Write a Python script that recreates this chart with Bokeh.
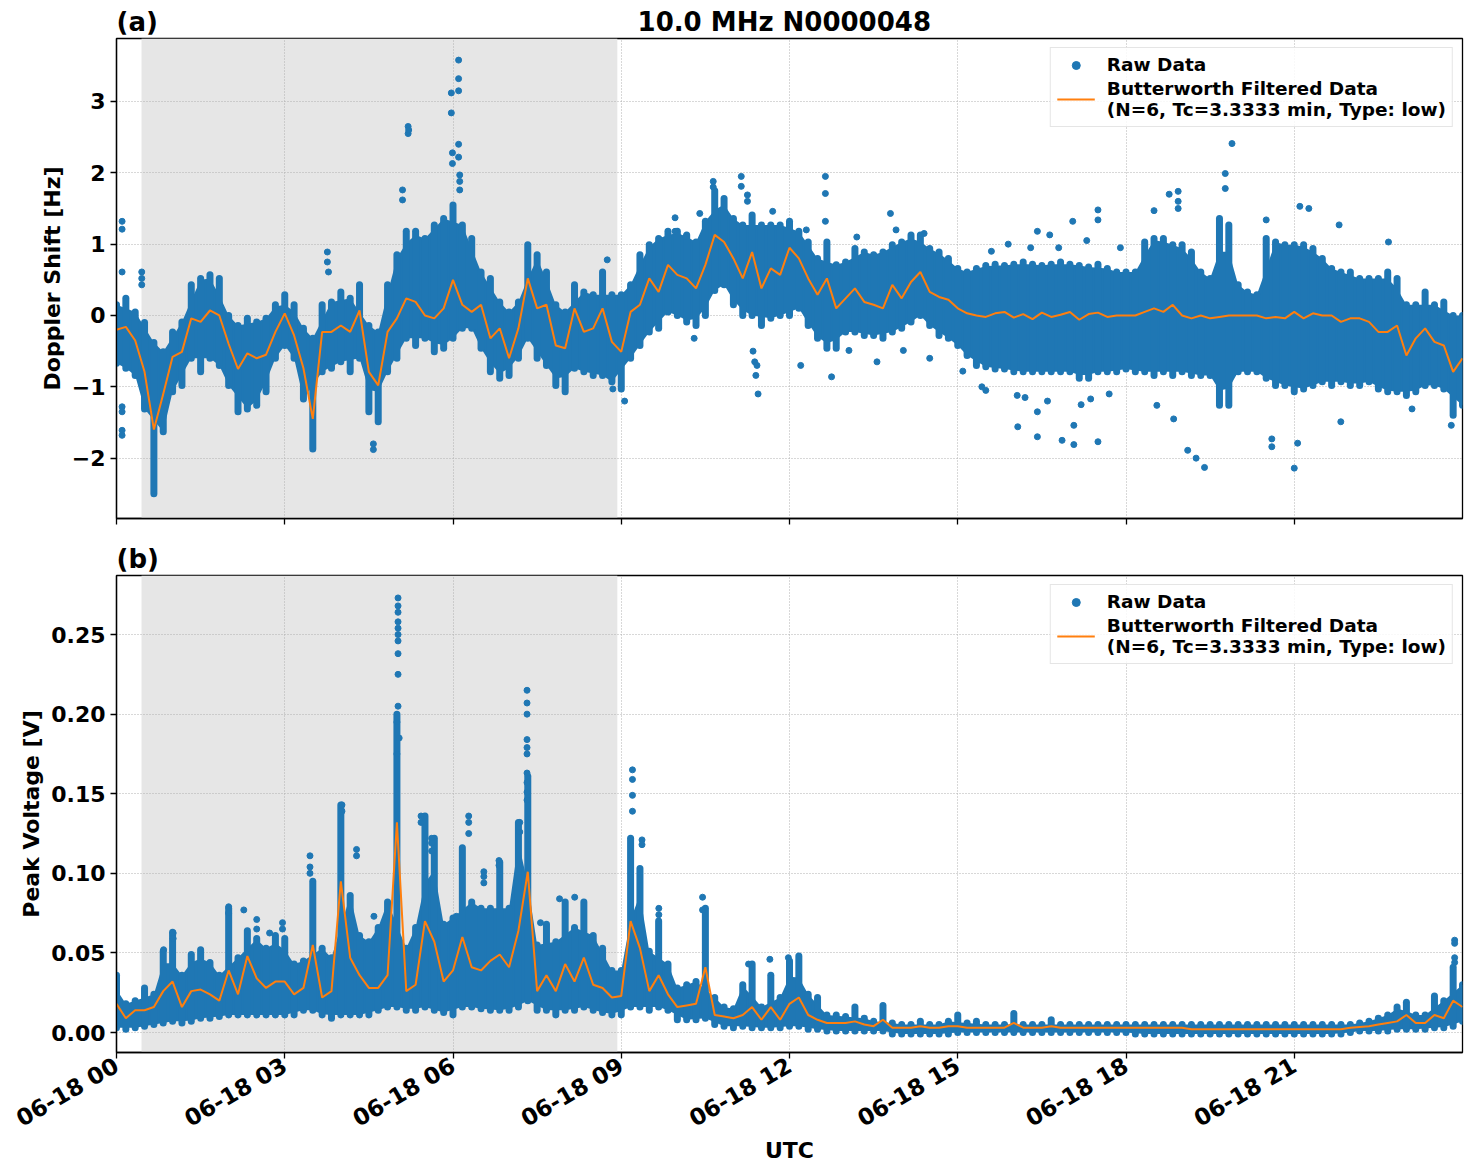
import math
from bokeh.plotting import figure
from bokeh.layouts import column
from bokeh.models import Range1d, FixedTicker, Legend, LegendItem, BoxAnnotation
from bokeh.embed import file_html
from bokeh.resources import INLINE

# ---------------------------------------------------------------- data
# 10-minute sampling grid over the UTC day (hours)
STEP_MIN = 10
TIME_H = [i * STEP_MIN / 60 for i in range(145)]

TICK_HOURS = [0, 3, 6, 9, 12, 15, 18, 21]
TICK_LABELS = ["06-18 00", "06-18 03", "06-18 06", "06-18 09",
               "06-18 12", "06-18 15", "06-18 18", "06-18 21"]

# night-time interval (hours UTC)
NIGHT_START = 0.446
NIGHT_END = 8.93

# Doppler shift [Hz]: low-pass filtered trace
DOP_FILT = [
    -0.20, -0.16, -0.35, -0.79, -1.60, -1.10, -0.58, -0.51, -0.04, -0.09,
    0.07, 0.00, -0.40, -0.75, -0.53, -0.60, -0.55, -0.23, 0.03, -0.28,
    -0.74, -1.45, -0.23, -0.23, -0.14, -0.23, 0.07, -0.79, -0.98, -0.23,
    -0.04, 0.24, 0.19, 0.00, -0.04, 0.10, 0.50, 0.15, 0.05, 0.15,
    -0.32, -0.18, -0.60, -0.18, 0.52, 0.10, 0.15, -0.42, -0.46, 0.10,
    -0.23, -0.18, 0.10, -0.37, -0.51, 0.05, 0.15, 0.52, 0.33, 0.71,
    0.57, 0.52, 0.38, 0.71, 1.13, 1.03, 0.80, 0.52, 0.89, 0.38,
    0.66, 0.57, 0.95, 0.80, 0.52, 0.29, 0.52, 0.10, 0.24, 0.38,
    0.19, 0.15, 0.10, 0.43, 0.24, 0.47, 0.61, 0.33, 0.26, 0.22,
    0.10, 0.03, 0.00, -0.02, 0.03, 0.05, -0.03, 0.02, -0.05, 0.04,
    -0.02, 0.01, 0.05, -0.06, 0.02, 0.04, -0.02, 0.00, 0.00, 0.00,
    0.05, 0.10, 0.05, 0.15, 0.00, -0.04, 0.00, -0.04, -0.02, 0.00,
    0.00, 0.00, 0.00, -0.04, -0.02, -0.04, 0.05, -0.04, 0.03, 0.00,
    0.00, -0.09, -0.04, -0.04, -0.09, -0.23, -0.23, -0.14, -0.56, -0.32,
    -0.18, -0.37, -0.42, -0.79, -0.60,
]
# Doppler shift raw samples: upper / lower edge of the dense cloud
DOP_HI = [
    0.15, 0.24, 0.05, -0.10, -0.38, -0.51, -0.23, -0.09, 0.43, 0.52,
    0.57, 0.52, 0.00, -0.14, -0.04, -0.09, -0.04, 0.15, 0.29, 0.15,
    -0.18, -0.32, 0.15, 0.19, 0.33, 0.24, 0.43, -0.14, -0.23, 0.43,
    0.85, 1.18, 1.18, 1.08, 1.27, 1.36, 1.55, 1.27, 1.08, 0.61,
    0.52, 0.19, 0.05, 0.19, 0.99, 0.85, 0.61, 0.15, 0.05, 0.43,
    0.33, 0.29, 0.61, 0.29, 0.29, 0.43, 0.85, 0.99, 1.08, 1.18,
    1.18, 1.13, 1.03, 1.32, 1.75, 1.64, 1.36, 1.27, 1.41, 1.27,
    1.27, 1.27, 1.32, 1.18, 1.03, 0.80, 1.03, 0.71, 0.75, 0.94,
    0.89, 0.85, 0.89, 0.99, 1.03, 1.13, 1.13, 0.94, 0.89, 0.80,
    0.66, 0.61, 0.66, 0.70, 0.72, 0.70, 0.72, 0.75, 0.72, 0.70,
    0.72, 0.75, 0.72, 0.70, 0.68, 0.72, 0.66, 0.61, 0.61, 0.61,
    1.03, 1.08, 1.08, 0.99, 0.99, 0.89, 0.61, 0.52, 1.36, 1.27,
    0.43, 0.33, 0.29, 1.08, 1.03, 0.99, 0.99, 0.99, 0.94, 0.80,
    0.66, 0.61, 0.61, 0.52, 0.52, 0.52, 0.61, 0.52, 0.15, 0.15,
    0.33, 0.15, 0.19, 0.00, 0.00,
]
DOP_LO = [
    -0.67, -0.74, -0.84, -1.31, -2.50, -1.63, -1.07, -0.98, -0.60, -0.79,
    -0.60, -0.70, -0.98, -1.35, -1.31, -1.26, -1.07, -0.60, -0.42, -0.60,
    -1.17, -1.87, -0.79, -0.74, -0.65, -0.79, -0.60, -1.35, -1.49, -0.79,
    -0.60, -0.32, -0.42, -0.32, -0.51, -0.46, -0.32, -0.18, -0.18, -0.46,
    -0.79, -0.88, -0.84, -0.60, -0.32, -0.60, -0.70, -0.98, -1.07, -0.74,
    -0.79, -0.84, -0.84, -0.93, -1.03, -0.60, -0.42, -0.23, -0.18, 0.05,
    0.00, -0.09, -0.14, 0.00, 0.35, 0.43, 0.15, 0.00, 0.00, -0.14,
    -0.04, 0.00, 0.00, 0.10, -0.14, -0.32, -0.46, -0.46, -0.23, -0.23,
    -0.28, -0.28, -0.32, -0.23, -0.18, -0.09, 0.00, -0.14, -0.28, -0.32,
    -0.42, -0.56, -0.70, -0.72, -0.75, -0.75, -0.79, -0.79, -0.79, -0.79,
    -0.79, -0.79, -0.79, -0.88, -0.88, -0.79, -0.79, -0.79, -0.75, -0.79,
    -0.79, -0.84, -0.79, -0.84, -0.79, -0.84, -0.84, -0.84, -1.26, -1.26,
    -0.79, -0.79, -0.79, -0.88, -0.98, -0.98, -1.07, -1.03, -0.98, -0.93,
    -0.98, -0.93, -0.98, -0.98, -0.93, -1.03, -1.07, -1.07, -1.12, -1.07,
    -0.98, -0.98, -1.03, -1.40, -1.26,
]
# isolated raw Doppler samples outside the dense cloud
DOP_OUT_T = [
    0.10, 0.10, 0.10, 0.10, 0.10, 0.10, 0.10,
    0.45, 0.45, 0.45,
    3.76, 3.76, 3.78,
    4.58, 4.58,
    5.20, 5.20, 5.21, 5.10, 5.10,
    5.97, 5.97, 5.99, 5.99,
    6.10, 6.10, 6.10, 6.10, 6.10, 6.12, 6.12, 6.12,
    8.75, 9.06, 8.85,
    9.96, 9.96, 10.15, 10.30, 10.40, 10.64, 10.64,
    11.14, 11.14, 11.25, 11.25,
    11.35, 11.38, 11.40, 11.42, 11.44,
    11.70,
    12.64, 12.64, 12.64, 12.75, 13.80, 14.03, 13.56, 13.06,
    15.09, 15.43, 16.07, 16.42, 16.42, 16.86, 17.07, 17.07, 17.50,
    16.42, 16.64, 17.05, 17.50, 17.50, 16.06, 17.37,
    15.60, 15.90, 16.30, 16.80, 17.30, 17.90, 15.50, 16.20, 16.60, 17.20, 17.70,
    12.30, 13.20, 13.90, 14.40, 12.20, 14.50,
    19.89, 19.77, 19.77, 18.93, 18.93, 18.93, 18.50, 18.77,
    19.10, 19.25, 19.40,
    21.00, 21.06, 20.60, 20.60, 21.10, 21.26, 21.83, 22.68, 23.80,
    20.50, 18.85, 18.55, 21.80, 23.10,
]
DOP_OUT_V = [
    1.32, 1.21, 0.61, -1.28, -1.35, -1.61, -1.68,
    0.61, 0.52, 0.43,
    0.89, 0.75, 0.61,
    -1.80, -1.88,
    2.65, 2.55, 2.60, 1.76, 1.62,
    3.12, 2.84, 2.28, 2.13,
    3.58, 3.32, 3.15, 2.40, 2.22, 1.97, 1.88, 1.76,
    0.78, -1.20, -1.03,
    1.37, 1.18, 1.10, -0.32, 1.43, 1.88, 1.80,
    1.95, 1.81, 1.69, 1.60,
    -0.50, -0.65, -0.84, -0.70, -1.10,
    1.46,
    1.95, 1.71, 1.32, -0.86, 1.43, -0.49, -0.65, -0.49,
    -0.78, -1.00, -1.56, -1.70, -1.35, -1.75, -1.81, -1.54, -1.77,
    1.18, 1.13, 1.32, 1.48, 1.34, -1.12, -1.17,
    0.90, 1.00, 0.95, 0.95, 1.05, 0.95, -1.05, -1.15, -1.20, -1.25, -1.10,
    1.20, 1.10, 1.20, 1.15, -0.70, -0.60,
    2.41, 1.99, 1.78, 1.74, 1.60, 1.50, 1.47, 1.70,
    -1.89, -2.00, -2.13,
    -2.14, -1.79, -1.84, -1.73, 1.53, 1.50, -1.49, 1.03, -1.54,
    1.34, -1.45, -1.26, 1.27, -1.31,
]

# Peak voltage [V]: low-pass filtered trace
VOLT_FILT = [
    0.018, 0.009, 0.014, 0.014, 0.016, 0.026, 0.032, 0.016, 0.026, 0.027,
    0.024, 0.020, 0.039, 0.024, 0.048, 0.034, 0.028, 0.032, 0.032, 0.024,
    0.028, 0.055, 0.022, 0.026, 0.095, 0.047, 0.036, 0.028, 0.028, 0.036,
    0.132, 0.026, 0.030, 0.070, 0.057, 0.032, 0.039, 0.060, 0.041, 0.039,
    0.045, 0.049, 0.041, 0.064, 0.101, 0.026, 0.036, 0.026, 0.043, 0.032,
    0.047, 0.030, 0.028, 0.022, 0.023, 0.070, 0.053, 0.026, 0.036, 0.024,
    0.016, 0.017, 0.018, 0.041, 0.011, 0.010, 0.009, 0.011, 0.016, 0.008,
    0.016, 0.008, 0.018, 0.022, 0.011, 0.008, 0.006, 0.006, 0.006, 0.007,
    0.005, 0.004, 0.008, 0.003, 0.003, 0.003, 0.004, 0.003, 0.003, 0.004,
    0.004, 0.003, 0.003, 0.003, 0.003, 0.003, 0.006, 0.003, 0.003, 0.003,
    0.004, 0.003, 0.003, 0.003, 0.003, 0.003, 0.003, 0.003, 0.003, 0.003,
    0.003, 0.003, 0.003, 0.003, 0.003, 0.002, 0.002, 0.002, 0.002, 0.002,
    0.002, 0.002, 0.002, 0.002, 0.002, 0.002, 0.002, 0.002, 0.002, 0.002,
    0.002, 0.002, 0.003, 0.0035, 0.004, 0.005, 0.006, 0.007, 0.011, 0.006,
    0.006, 0.011, 0.009, 0.020, 0.016,
]
VOLT_HI = [
    0.036, 0.018, 0.020, 0.028, 0.024, 0.051, 0.063, 0.036, 0.049, 0.052,
    0.044, 0.036, 0.078, 0.047, 0.064, 0.059, 0.053, 0.061, 0.059, 0.043,
    0.045, 0.095, 0.053, 0.047, 0.143, 0.086, 0.061, 0.057, 0.066, 0.082,
    0.200, 0.053, 0.066, 0.136, 0.122, 0.068, 0.072, 0.116, 0.082, 0.078,
    0.078, 0.107, 0.078, 0.132, 0.161, 0.055, 0.068, 0.057, 0.082, 0.066,
    0.082, 0.061, 0.053, 0.039, 0.039, 0.122, 0.103, 0.051, 0.070, 0.043,
    0.028, 0.030, 0.032, 0.078, 0.022, 0.016, 0.015, 0.030, 0.043, 0.016,
    0.036, 0.022, 0.045, 0.048, 0.024, 0.022, 0.011, 0.011, 0.010, 0.016,
    0.009, 0.007, 0.017, 0.006, 0.005, 0.005, 0.007, 0.005, 0.005, 0.007,
    0.011, 0.006, 0.007, 0.005, 0.005, 0.005, 0.012, 0.005, 0.005, 0.005,
    0.008, 0.005, 0.005, 0.005, 0.005, 0.005, 0.005, 0.005, 0.005, 0.005,
    0.005, 0.005, 0.005, 0.005, 0.005, 0.005, 0.005, 0.005, 0.005, 0.005,
    0.005, 0.005, 0.005, 0.005, 0.005, 0.005, 0.005, 0.005, 0.005, 0.005,
    0.005, 0.005, 0.005, 0.006, 0.007, 0.009, 0.011, 0.016, 0.019, 0.011,
    0.011, 0.023, 0.020, 0.041, 0.030,
]
VOLT_LO = [
    0.003, 0.002, 0.003, 0.004, 0.005, 0.006, 0.007, 0.006, 0.007, 0.009,
    0.009, 0.010, 0.011, 0.011, 0.011, 0.011, 0.011, 0.011, 0.011, 0.011,
    0.014, 0.014, 0.011, 0.009, 0.011, 0.011, 0.011, 0.011, 0.014, 0.016,
    0.016, 0.014, 0.014, 0.016, 0.014, 0.0125, 0.011, 0.016, 0.016, 0.015,
    0.014, 0.014, 0.014, 0.016, 0.020, 0.014, 0.014, 0.011, 0.014, 0.014,
    0.016, 0.014, 0.0125, 0.011, 0.011, 0.016, 0.016, 0.014, 0.016, 0.014,
    0.008, 0.008, 0.008, 0.009, 0.005, 0.004, 0.003, 0.004, 0.003, 0.003,
    0.003, 0.003, 0.004, 0.004, 0.002, 0.002, 0.001, 0.001, 0.001, 0.001,
    0.001, 0.001, 0.001, -0.001, -0.001, -0.001, -0.001, -0.001, -0.001, -0.001,
    0.000, 0.000, 0.000, 0.000, 0.000, 0.000, 0.000, 0.000, 0.000, 0.000,
    0.000, 0.000, 0.000, 0.000, 0.000, 0.000, 0.000, 0.000, 0.000, -0.001,
    -0.001, -0.001, -0.001, -0.001, -0.001, -0.001, -0.001, -0.001, -0.001, -0.001,
    -0.001, -0.001, -0.001, -0.001, -0.001, -0.001, -0.001, -0.001, -0.001, -0.001,
    -0.001, -0.001, 0.000, 0.001, 0.001, 0.001, 0.001, 0.002, 0.002, 0.002,
    0.002, 0.003, 0.003, 0.004, 0.007,
]
VOLT_OUT_T = [
    5.02, 5.02, 5.02, 5.02, 5.02, 5.02, 5.02, 5.02, 5.02, 5.02, 5.00, 5.04, 5.00,
    4.02, 4.02, 4.28, 4.28, 3.45, 3.45, 3.45,
    2.00, 2.00, 2.27, 2.50, 2.50, 2.96, 2.96, 2.73,
    5.43, 5.43, 5.62, 5.62, 5.62, 1.01, 1.01, 0.84, 4.59, 6.06,
    6.28, 6.28, 6.28, 6.55, 6.55, 6.55, 6.82, 6.82,
    7.32, 7.32, 7.32, 7.32, 7.32, 7.32, 7.32, 7.32, 7.32, 7.32, 7.19, 7.19,
    7.90, 8.17, 7.56,
    9.20, 9.20, 9.20, 9.20, 9.37, 9.37, 9.67, 9.67,
    10.45, 10.45, 11.65, 11.27, 11.98,
    23.86, 23.86, 23.86, 23.86,
]
VOLT_OUT_V = [
    0.273, 0.268, 0.264, 0.258, 0.254, 0.250, 0.246, 0.238, 0.225, 0.205, 0.195, 0.185, 0.175,
    0.143, 0.139, 0.115, 0.111, 0.111, 0.104, 0.100,
    0.079, 0.075, 0.077, 0.071, 0.065, 0.069, 0.065, 0.0625,
    0.136, 0.132, 0.122, 0.119, 0.114, 0.0625, 0.059, 0.052, 0.073, 0.073,
    0.136, 0.132, 0.125, 0.101, 0.098, 0.094, 0.108, 0.105,
    0.215, 0.207, 0.200, 0.184, 0.179, 0.175, 0.163, 0.157, 0.151, 0.146, 0.132, 0.126,
    0.084, 0.085, 0.069,
    0.165, 0.159, 0.149, 0.139, 0.121, 0.118, 0.078, 0.074,
    0.085, 0.077, 0.046, 0.043, 0.047,
    0.058, 0.056, 0.047, 0.044,
]

# ---------------------------------------------------------------- style
BLUE = "#1f77b4"
ORANGE = "#ff7f0e"
FONT = "DejaVu Sans"
FILT_LABEL = "Butterworth Filtered Data\n(N=6, Tc=3.3333 min, Type: low)"
# panel tag on the left, figure title centred over the frame
TOP_TITLE = "(a)" + "\u00a0" * 53 + "10.0 MHz N0000048"


def core_band(hi, lo):
    """Continuous part of the cloud: local peaks of the envelope are cut
    back to their neighbours' mean and left to the narrow columns."""
    n = len(hi)
    top, bot = [], []
    for i in range(n):
        a, b = max(i - 1, 0), min(i + 1, n - 1)
        top.append(min(hi[i], (hi[a] + hi[b]) / 2))
        bot.append(max(lo[i], (lo[a] + lo[b]) / 2))
    return top, bot


def panel(y_range, frame_h, top, bottom, y_ticks, y_labels, y_title,
          title, filt, hi, lo, out_t, out_v, show_x_labels):
    p = figure(frame_width=1346, frame_height=frame_h,
               x_range=Range1d(0, 24), y_range=Range1d(*y_range),
               output_backend="svg", toolbar_location=None,
               min_border_left=116, min_border_right=10,
               min_border_top=top, min_border_bottom=bottom)
    p.background_fill_color = "white"
    p.border_fill_color = "white"
    p.outline_line_color = "black"
    p.outline_line_width = 1.3

    p.title.text = title
    p.title.align = "left"
    p.title.text_font = FONT
    p.title.text_font_style = "bold"
    p.title.text_font_size = "26px"
    p.title.text_color = "black"
    p.title.standoff = 4
    p.title.offset = 0

    # night shading sits beneath the grid
    p.add_layout(BoxAnnotation(left=NIGHT_START, right=NIGHT_END,
                               fill_color="#e6e6e6", fill_alpha=1.0,
                               line_alpha=0, level="image"))

    for g in (p.xgrid, p.ygrid):
        g.grid_line_color = "#b0b0b0"
        g.grid_line_dash = "1 2"
        g.grid_line_width = 1

    # raw samples: shared core band, per-sample columns, scattered points
    core_hi, core_lo = core_band(hi, lo)
    p.varea(x=TIME_H, y1=core_lo, y2=core_hi, fill_color=BLUE)
    p.segment(x0=TIME_H, y0=lo, x1=TIME_H, y1=hi, line_color=BLUE,
              line_width=7, line_cap="round")
    raw = p.scatter(x=out_t, y=out_v, size=6, color=BLUE)
    filt_r = p.line(x=TIME_H, y=filt, line_color=ORANGE, line_width=2)

    # axes
    p.xaxis.ticker = FixedTicker(ticks=TICK_HOURS)
    p.yaxis.ticker = FixedTicker(ticks=y_ticks)
    p.yaxis.major_label_overrides = dict(zip(y_ticks, y_labels))
    if show_x_labels:
        p.xaxis.major_label_overrides = dict(zip(TICK_HOURS, TICK_LABELS))
        p.xaxis.major_label_orientation = math.pi / 6
        p.xaxis.axis_label = "UTC"
    else:
        p.xaxis.major_label_overrides = {h: "" for h in TICK_HOURS}
        p.xaxis.major_label_text_font_size = "1px"
    p.yaxis.axis_label = y_title
    for ax in (p.xaxis, p.yaxis):
        ax.axis_line_color = "black"
        ax.axis_line_width = 1.3
        ax.major_tick_line_color = "black"
        ax.major_tick_line_width = 1.3
        ax.major_tick_out = 6
        ax.major_tick_in = 0
        ax.minor_tick_line_color = None
        ax.major_label_text_font = FONT
        ax.major_label_text_font_style = "bold"
        ax.major_label_text_color = "black"
        ax.axis_label_text_font = FONT
        ax.axis_label_text_font_style = "bold"
        ax.axis_label_text_font_size = "22px"
        ax.axis_label_text_color = "black"
    p.yaxis.major_label_text_font_size = "22px"
    if show_x_labels:
        p.xaxis.major_label_text_font_size = "23px"
    p.yaxis.axis_label_standoff = 4
    p.xaxis.axis_label_standoff = -8

    legend = Legend(items=[LegendItem(label="Raw Data", renderers=[raw]),
                           LegendItem(label=FILT_LABEL, renderers=[filt_r])],
                    location="top_right")
    legend.label_text_font = FONT
    legend.label_text_font_style = "bold"
    legend.label_text_font_size = "18.5px"
    legend.label_text_color = "black"
    legend.border_line_color = "#cccccc"
    legend.border_line_width = 1.3
    legend.background_fill_alpha = 0.85
    legend.margin = 9
    legend.padding = 6
    legend.spacing = 3
    legend.glyph_width = 38
    legend.label_standoff = 12
    p.add_layout(legend)
    return p


p1 = panel((-2.846, 3.883), 480, 38, 21,
           [-2, -1, 0, 1, 2, 3], ["\u22122", "\u22121", "0", "1", "2", "3"],
           "Doppler Shift [Hz]", TOP_TITLE, DOP_FILT, DOP_HI, DOP_LO,
           DOP_OUT_T, DOP_OUT_V, False)

V_TICKS = [0.0, 0.05, 0.10, 0.15, 0.20, 0.25]
p2 = panel((-0.01256, 0.2871), 477, 32, 120,
           V_TICKS, ["0.00", "0.05", "0.10", "0.15", "0.20", "0.25"],
           "Peak Voltage [V]", "(b)", VOLT_FILT, VOLT_HI, VOLT_LO,
           VOLT_OUT_T, VOLT_OUT_V, True)

layout = column(p1, p2, spacing=0)
with open("out.html", "w") as f:
    f.write(file_html(layout, INLINE))
